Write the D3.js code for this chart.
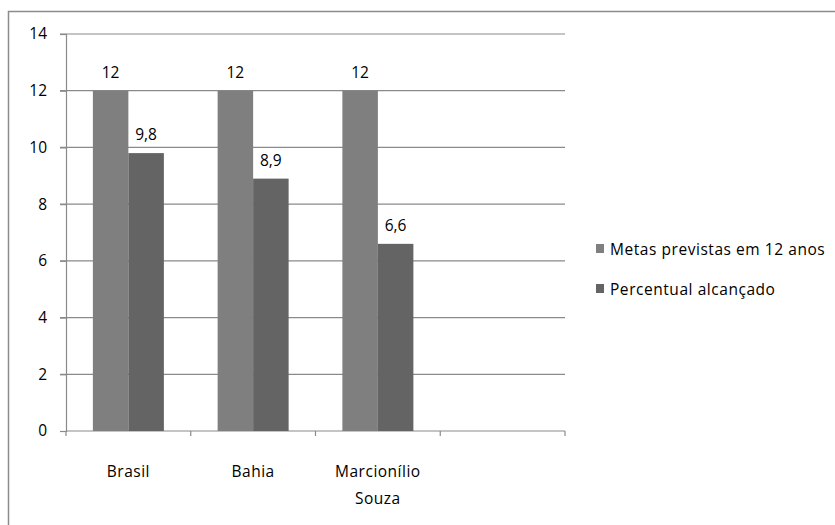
<!DOCTYPE html>
<html>
<head>
<meta charset="utf-8">
<script src="https://cdn.jsdelivr.net/npm/d3@7"></script>
<style>
  html, body { margin: 0; padding: 0; background: #fff; }
  svg { display: block; font-family: "Open Sans", sans-serif; }
</style>
</head>
<body>
<svg id="chart" width="835" height="525"></svg>
<script>
// Categories (the fourth slot is intentionally left empty)
const categories = ["Brasil", "Bahia", "Marcionílio Souza", ""];
const seriesNames = ["Metas previstas em 12 anos", "Percentual alcançado"];
const metas = [12, 12, 12, null];
const alcancado = [9.8, 8.9, 6.6, null];
const yTicks = [0, 2, 4, 6, 8, 10, 12, 14];
const colors = ["#7f7f7f", "#646464"];

const svg = d3.select("#chart");
const font = "Open Sans, sans-serif";
const fs = 15.5;

// Outer frame (only top and left edges fall inside the view)
svg.append("rect")
  .attr("x", 8.5).attr("y", 11.5)
  .attr("width", 900).attr("height", 600)
  .attr("fill", "none").attr("stroke", "#8c8c8c").attr("stroke-width", 1.5);

const plot = { left: 66, right: 565, top: 34, bottom: 431 };

const x = d3.scaleBand().domain(d3.range(categories.length))
  .range([plot.left, plot.right]).paddingInner(0).paddingOuter(0);
const y = d3.scaleLinear().domain([0, 14]).range([plot.bottom, plot.top]);

// Horizontal gridlines
svg.append("g").selectAll("line").data(yTicks.filter(d => d > 0)).join("line")
  .attr("x1", plot.left - 6).attr("x2", plot.right)
  .attr("y1", d => y(d)).attr("y2", d => y(d))
  .attr("stroke", "#8a8a8a").attr("stroke-width", 1.2);

// Y axis
const yAxis = d3.axisLeft(y).tickValues(yTicks).tickSize(6).tickPadding(13)
  .tickFormat(d3.format("d"));
const gy = svg.append("g").attr("transform", `translate(${plot.left},0)`).call(yAxis);
gy.select(".domain").attr("stroke", "#8a8a8a").attr("stroke-width", 1.2);
gy.selectAll(".tick line").attr("stroke", "#8a8a8a").attr("stroke-width", 1.2);
gy.selectAll(".tick text").attr("font-size", fs).attr("font-family", font).attr("fill", "#000");

// X axis with ticks at category boundaries
svg.append("line")
  .attr("x1", plot.left).attr("x2", plot.right)
  .attr("y1", plot.bottom).attr("y2", plot.bottom)
  .attr("stroke", "#8a8a8a").attr("stroke-width", 1.2);
const bounds = d3.range(categories.length + 1).map(i =>
  i < categories.length ? x(i) : x(categories.length - 1) + x.bandwidth());
svg.append("g").selectAll("line").data(bounds).join("line")
  .attr("x1", d => d).attr("x2", d => d)
  .attr("y1", plot.bottom).attr("y2", plot.bottom + 5)
  .attr("stroke", "#8a8a8a").attr("stroke-width", 1.2);

// Category labels (wrapped onto two lines when needed)
const wrap = { "Marcionílio Souza": ["Marcionílio", "Souza"] };
const catG = svg.append("g").selectAll("text").data(categories).join("text")
  .attr("x", (d, i) => x(i) + x.bandwidth() / 2)
  .attr("y", plot.bottom + 46)
  .attr("text-anchor", "middle").attr("font-size", fs).attr("font-family", font)
  .attr("letter-spacing", 0.5);
catG.each(function(d) {
  const lines = wrap[d] || [d];
  d3.select(this).selectAll("tspan").data(lines).join("tspan")
    .attr("x", d3.select(this).attr("x"))
    .attr("dy", (l, j) => j === 0 ? 0 : 27)
    .text(l => l);
});

// Bars
const barW = 35.5;
const series = [metas, alcancado];
series.forEach((vals, s) => {
  const data = vals.map((v, i) => ({ v, i })).filter(d => d.v != null);
  const g = svg.append("g");
  g.selectAll("rect").data(data).join("rect")
    .attr("x", d => x(d.i) + x.bandwidth() / 2 - barW + s * barW)
    .attr("y", d => y(d.v))
    .attr("width", barW)
    .attr("height", d => y(0) - y(d.v))
    .attr("fill", colors[s]);
  g.selectAll("text").data(data).join("text")
    .attr("x", d => x(d.i) + x.bandwidth() / 2 - barW + s * barW + barW / 2)
    .attr("y", d => y(d.v) - 13)
    .attr("text-anchor", "middle").attr("font-size", fs).attr("font-family", font)
    .text(d => d3.format(".1~f")(d.v).replace(".", ","));
});

// Legend
const leg = svg.append("g").attr("transform", "translate(596,244)");
seriesNames.forEach((name, s) => {
  leg.append("rect").attr("x", 0).attr("y", s * 40).attr("width", 8).attr("height", 9)
    .attr("fill", colors[s]);
  leg.append("text").attr("x", 14).attr("y", s * 40 + 10.5)
    .attr("font-size", fs).attr("font-family", font).attr("letter-spacing", 0.55)
    .text(name);
});
</script>
</body>
</html>
